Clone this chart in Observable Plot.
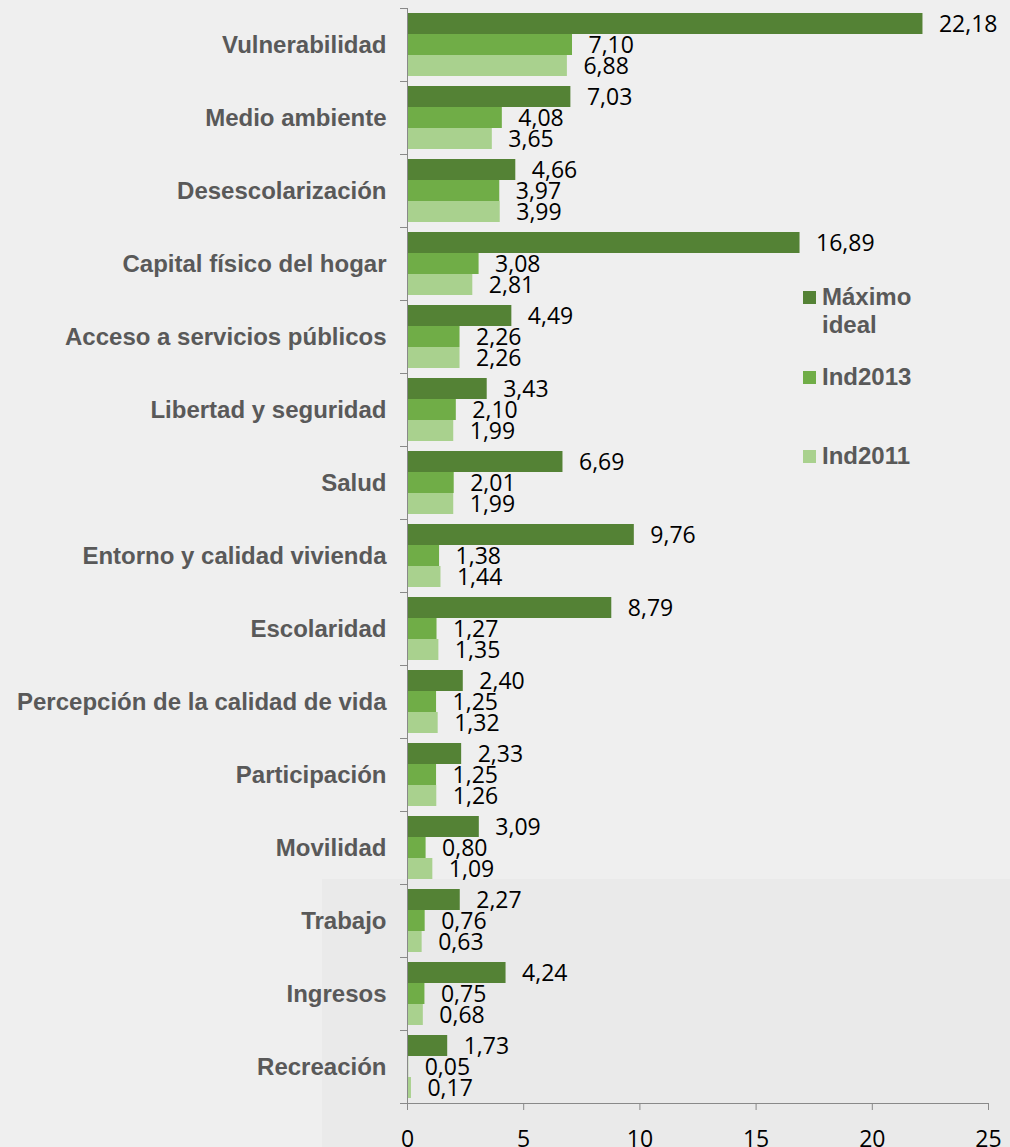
<!DOCTYPE html>
<html><head><meta charset="utf-8">
<script src="https://cdn.jsdelivr.net/npm/d3@7"></script>
<script src="https://cdn.jsdelivr.net/npm/@observablehq/plot@0.6"></script>
<style>
html,body{margin:0;padding:0;background:#efefef;}
#wrap{position:relative;width:1010px;height:1147px;overflow:hidden;}
#shade{position:absolute;left:322px;top:879px;right:0;bottom:0;background:#eaeaea;}
#chart{position:absolute;left:0;top:0;}
#legend{position:absolute;left:803px;top:0;font-family:"Liberation Sans",Arial,sans-serif;font-weight:bold;font-size:24px;color:#595959;}
.item{position:absolute;left:0;display:flex;line-height:28px;}
.sw{width:13px;height:13px;margin-top:8px;margin-right:6px;flex:none;}
.lb{width:120px;}
</style></head><body>
<div id="wrap"><div id="shade"></div><div id="chart"></div><div id="legend"></div></div>
<script>
const categories = ["Vulnerabilidad","Medio ambiente","Desescolarización","Capital físico del hogar","Acceso a servicios públicos","Libertad y seguridad","Salud","Entorno y calidad vivienda","Escolaridad","Percepción de la calidad de vida","Participación","Movilidad","Trabajo","Ingresos","Recreación"];
const series = ["Máximo ideal","Ind2013","Ind2011"];
const maximo = [22.18,7.03,4.66,16.89,4.49,3.43,6.69,9.76,8.79,2.40,2.33,3.09,2.27,4.24,1.73];
const ind2013 = [7.10,4.08,3.97,3.08,2.26,2.10,2.01,1.38,1.27,1.25,1.25,0.80,0.76,0.75,0.05];
const ind2011 = [6.88,3.65,3.99,2.81,2.26,1.99,1.99,1.44,1.35,1.32,1.26,1.09,0.63,0.68,0.17];
const colors = ["#548235","#70ad47","#a9d18e"];
const xTicks = [0,5,10,15,20,25];

const values = [maximo, ind2013, ind2011];
const data = categories.flatMap((c,i)=>series.map((s,j)=>({cat:c, s, v:values[j][i]})));
const fmt = v => d3.format(".2f")(v).replace(".", ",");

const W=1010, H=1147, mL=407, mR=22, mT=7, mB=44;
const innerW = W-mL-mR;
const axisColor = "#898989";

const chart = Plot.plot({
  width:W, height:H, marginLeft:mL, marginRight:mR, marginTop:mT, marginBottom:mB,
  style:{background:"transparent", overflow:"visible"},
  x:{domain:[0,25], axis:null},
  y:{domain:series, paddingInner:0, paddingOuter:0.238, axis:null},
  fy:{domain:categories, padding:0, axis:null},
  color:{domain:series, range:colors},
  marks:[
    Plot.barX(data,{x:"v", y:"s", fy:"cat", fill:"s"}),
    Plot.text(data,{x:"v", y:"s", fy:"cat", text:d=>fmt(d.v), textAnchor:"start", dx:16, dy:1, fontSize:23, fontFamily:"Open Sans", fill:"#000"}),
    Plot.frame({anchor:"left", stroke:axisColor}),
    Plot.frame({anchor:"top", stroke:axisColor, insetLeft:-7, insetRight:innerW}),
    Plot.frame({anchor:"bottom", stroke:axisColor, insetLeft:-7, facetAnchor:"bottom"}),
    Plot.axisFy({anchor:"left", label:null, tickSize:0, tickPadding:21, fontSize:24, fontWeight:"bold", fill:"#595959", fontFamily:"Liberation Sans"}),
    Plot.axisX({ticks:xTicks, label:null, tickSize:7, tickPadding:20, fontSize:23, fontFamily:"Open Sans", tickFormat:d=>String(d), stroke:axisColor, fill:"#000"})
  ]
});
document.getElementById("chart").append(chart);

const legend = document.getElementById("legend");
const legendTops = [283, 363, 442];
series.forEach((s,i)=>{
  const it = document.createElement("div");
  it.className="item"; it.style.top = legendTops[i]+"px";
  const sw = document.createElement("div"); sw.className="sw"; sw.style.background=colors[i];
  const lb = document.createElement("div"); lb.className="lb"; lb.textContent=s;
  it.append(sw, lb); legend.append(it);
});
</script>
</body></html>
